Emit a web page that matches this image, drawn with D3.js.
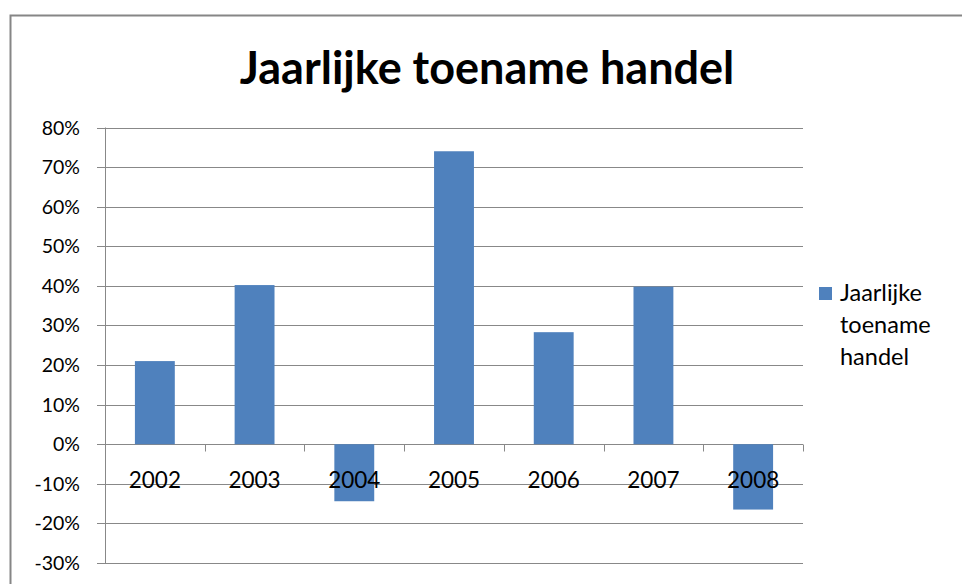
<!DOCTYPE html>
<html><head><meta charset="utf-8">
<script src="https://cdn.jsdelivr.net/npm/d3@7"></script>
<style>body{margin:0;background:#fff}svg{display:block}</style>
</head><body><svg id="c" width="962" height="584"></svg>
<script>
const categories = ["2002","2003","2004","2005","2006","2007","2008"];
const values = [0.21, 0.402, -0.144, 0.74, 0.283, 0.398, -0.165];
const yTicks = [-0.3,-0.2,-0.1,0,0.1,0.2,0.3,0.4,0.5,0.6,0.7,0.8];
const title = "Jaarlijke toename handel";
const legendLines = ["Jaarlijke","toename","handel"];

const svg = d3.select("#c");
const font = "Lato, 'Open Sans', sans-serif";
svg.append("rect").attr("x",10.5).attr("y",15.5).attr("width",1000).attr("height",1000)
  .attr("fill","#fff").attr("stroke","#868686").attr("stroke-width",2);

const L=105, R=803, T=127.5, B=563;
const x = d3.scaleBand().domain(categories).range([L,R]).paddingInner(0.6).paddingOuter(0.3);
const xb = d3.scaleBand().domain(categories).range([L,R]);
const y = d3.scaleLinear().domain([-0.3,0.8]).range([B,T]);

svg.append("text").attr("x",487).attr("y",84).attr("text-anchor","middle")
  .attr("font-family",font).attr("font-weight","bold").attr("font-size",45).attr("fill","#000").text(title);

// gridlines
svg.append("g").selectAll("line").data(yTicks).join("line")
  .attr("x1",L-8).attr("x2",R).attr("y1",d=>Math.round(y(d))+0.5).attr("y2",d=>Math.round(y(d))+0.5)
  .attr("stroke","#888").attr("stroke-width",1);
svg.append("line").attr("x1",L+0.5).attr("x2",L+0.5).attr("y1",T).attr("y2",B).attr("stroke","#888");

// y labels
svg.append("g").selectAll("text").data(yTicks).join("text")
  .attr("x",80).attr("y",d=>y(d)+7).attr("text-anchor","end")
  .attr("font-family",font).attr("font-size",19.5).attr("fill","#000")
  .text(d=>d3.format(".0%")(d).replace("−","-"));

// bars
svg.append("g").selectAll("rect").data(values).join("rect")
  .attr("x",(d,i)=>x(categories[i])).attr("width",x.bandwidth())
  .attr("y",d=>y(Math.max(0,d))).attr("height",d=>Math.abs(y(d)-y(0)))
  .attr("fill","#4F81BD");

// x axis ticks at category boundaries
const y0 = Math.round(y(0))+0.5;
const bounds = categories.map(c=>xb(c)).concat([R]);
svg.append("g").selectAll("line").data(bounds).join("line")
  .attr("x1",d=>Math.round(d)+0.5).attr("x2",d=>Math.round(d)+0.5).attr("y1",y0).attr("y2",y0+7)
  .attr("stroke","#888");

svg.append("g").selectAll("text").data(categories).join("text")
  .attr("x",d=>xb(d)+xb.bandwidth()/2).attr("y",488).attr("text-anchor","middle")
  .attr("font-family",font).attr("font-size",22.5).attr("fill","#000").text(d=>d);

// legend
svg.append("rect").attr("x",819).attr("y",287).attr("width",13).attr("height",13).attr("fill","#4F81BD");
svg.append("g").selectAll("text").data(legendLines).join("text")
  .attr("x",840).attr("y",(d,i)=>301+i*32)
  .attr("font-family",font).attr("font-size",23.5).attr("fill","#000").text(d=>d);
</script></body></html>
